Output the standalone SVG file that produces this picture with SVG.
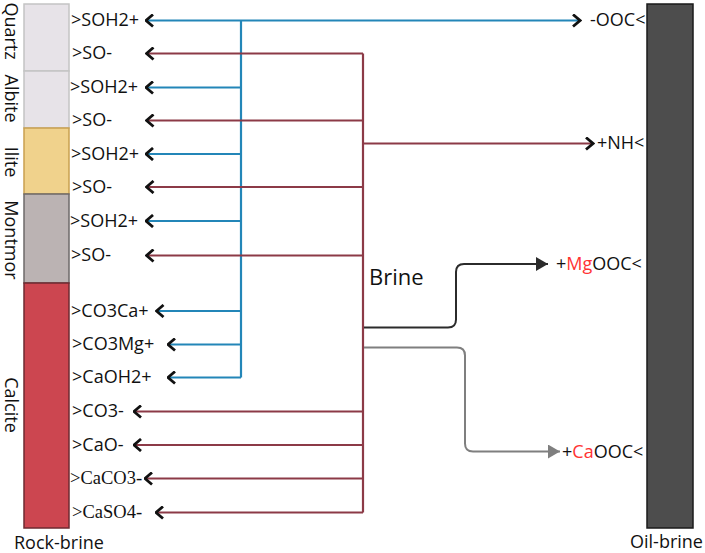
<svg xmlns="http://www.w3.org/2000/svg" width="705" height="553" viewBox="0 0 705 553">
<defs>
<style>
.t{font-family:"Open Sans","Noto Sans",sans-serif;font-size:18px;fill:#111}
.s{font-family:"Liberation Serif","Times New Roman",serif;font-size:18.5px;fill:#111}
.b{fill:none;stroke:#2386b8;stroke-width:2.2}
.m{fill:none;stroke:#8c3a47;stroke-width:2.2}
.r{fill:#ff3333}
</style>
<marker id="chev" viewBox="0 0 10 14" refX="8.5" refY="7" markerWidth="10" markerHeight="14" markerUnits="userSpaceOnUse" orient="auto">
<path d="M1.5,1 L8.5,7 L1.5,13" fill="none" stroke="#111" stroke-width="2.8" stroke-linejoin="miter"/>
</marker>
<marker id="triK" viewBox="0 0 12 14" refX="12" refY="7" markerWidth="12" markerHeight="14" markerUnits="userSpaceOnUse" orient="auto">
<path d="M0,0 L12,7 L0,14 Z" fill="#2b2b2b"/>
</marker>
<marker id="triG" viewBox="0 0 12 14" refX="12" refY="7" markerWidth="12" markerHeight="14" markerUnits="userSpaceOnUse" orient="auto">
<path d="M0,0 L12,7 L0,14 Z" fill="#7f7f7f"/>
</marker>
</defs>
<rect width="705" height="553" fill="#fff"/>

<g id="rock-brine">
<g id="quartz"><rect x="24" y="4" width="45" height="67" fill="#e7e3e8" stroke="#c4c4c4" stroke-width="1.5"/>
<text class="t" text-anchor="middle" transform="translate(5,31) rotate(90)">Quartz</text></g>
<g id="albite"><rect x="24" y="71" width="45" height="57" fill="#e7e3e8" stroke="#c4c4c4" stroke-width="1.5"/>
<text class="t" text-anchor="middle" transform="translate(5,98.5) rotate(90)">Albite</text></g>
<g id="ilite"><rect x="24" y="128" width="45" height="66" fill="#f0d28c" stroke="#c9a04f" stroke-width="1.5"/>
<text class="t" text-anchor="middle" transform="translate(5,162) rotate(90)">Ilite</text></g>
<g id="montmor"><rect x="24" y="194" width="45" height="89" fill="#bbb3b3" stroke="#6e6a6a" stroke-width="1.5"/>
<text class="t" text-anchor="middle" transform="translate(5,240) rotate(90)">Montmor</text></g>
<g id="calcite"><rect x="24" y="283" width="45" height="245" fill="#cc4650" stroke="#6e2a30" stroke-width="1.5"/>
<text class="t" text-anchor="middle" transform="translate(5,405) rotate(90)">Calcite</text></g>
<text class="t" x="14" y="549">Rock-brine</text>
</g>

<g id="oil-brine">
<rect x="647" y="4" width="46" height="524" fill="#4d4d4d" stroke="#1a1a1a" stroke-width="1.5"/>
<text class="t" x="630" y="548">Oil-brine</text>
</g>

<g id="brine">
<text x="369" y="285" font-family="Open Sans, Noto Sans, sans-serif" font-size="22" fill="#111">Brine</text>
</g>

<g id="labels-left">
<text class="t" x="71" y="26">&gt;SOH2+</text>
<text class="t" x="72" y="59">&gt;SO-</text>
<text class="t" x="70" y="93">&gt;SOH2+</text>
<text class="t" x="72" y="126">&gt;SO-</text>
<text class="t" x="71" y="160">&gt;SOH2+</text>
<text class="t" x="72" y="193">&gt;SO-</text>
<text class="t" x="70" y="227">&gt;SOH2+</text>
<text class="t" x="71" y="261">&gt;SO-</text>
<text class="t" x="71" y="317">&gt;CO3Ca+</text>
<text class="t" x="72" y="350">&gt;CO3Mg+</text>
<text class="t" x="72" y="383">&gt;CaOH2+</text>
<text class="t" x="72" y="417">&gt;CO3-</text>
<text class="t" x="72" y="451">&gt;CaO-</text>
<text class="s" x="70" y="484">&gt;CaCO3-</text>
<text class="s" x="72" y="518">&gt;CaSO4-</text>
</g>

<g id="labels-right">
<text class="t" x="590" y="26">-OOC&lt;</text>
<text class="t" x="597" y="149">+NH&lt;</text>
<text class="t" x="556" y="270">+<tspan class="r">Mg</tspan>OOC&lt;</text>
<text class="t" x="562" y="458">+<tspan class="r">Ca</tspan>OOC&lt;</text>
</g>

<g id="connectors">
<path class="b" d="M241,20.5 V377.5"/>
<path class="b" d="M241,20.5 H146" marker-end="url(#chev)"/>
<path class="b" d="M241,20.5 H580" marker-end="url(#chev)"/>
<path class="b" d="M241,87.5 H146" marker-end="url(#chev)"/>
<path class="b" d="M241,154 H146" marker-end="url(#chev)"/>
<path class="b" d="M241,221 H146" marker-end="url(#chev)"/>
<path class="b" d="M241,311 H156.5" marker-end="url(#chev)"/>
<path class="b" d="M241,344.5 H168" marker-end="url(#chev)"/>
<path class="b" d="M241,377.5 H168" marker-end="url(#chev)"/>

<path class="m" d="M363,53.5 V512.5"/>
<path class="m" d="M363,53.5 H146.5" marker-end="url(#chev)"/>
<path class="m" d="M363,120.5 H146.5" marker-end="url(#chev)"/>
<path class="m" d="M363,187 H146.5" marker-end="url(#chev)"/>
<path class="m" d="M363,255.5 H146.5" marker-end="url(#chev)"/>
<path class="m" d="M363,411.5 H134" marker-end="url(#chev)"/>
<path class="m" d="M363,445 H134" marker-end="url(#chev)"/>
<path class="m" d="M363,478.5 H145" marker-end="url(#chev)"/>
<path class="m" d="M363,512.5 H156" marker-end="url(#chev)"/>
<path class="m" d="M363,143.5 H593" marker-end="url(#chev)"/>

<path d="M364,327.5 H448 Q456,327.5 456,319.5 V272 Q456,264 464,264 H548" fill="none" stroke="#2b2b2b" stroke-width="2" marker-end="url(#triK)"/>
<path d="M364,347.5 H457 Q465,347.5 465,355.5 V443.5 Q465,451.5 473,451.5 H560" fill="none" stroke="#7f7f7f" stroke-width="2" marker-end="url(#triG)"/>
</g>
</svg>
